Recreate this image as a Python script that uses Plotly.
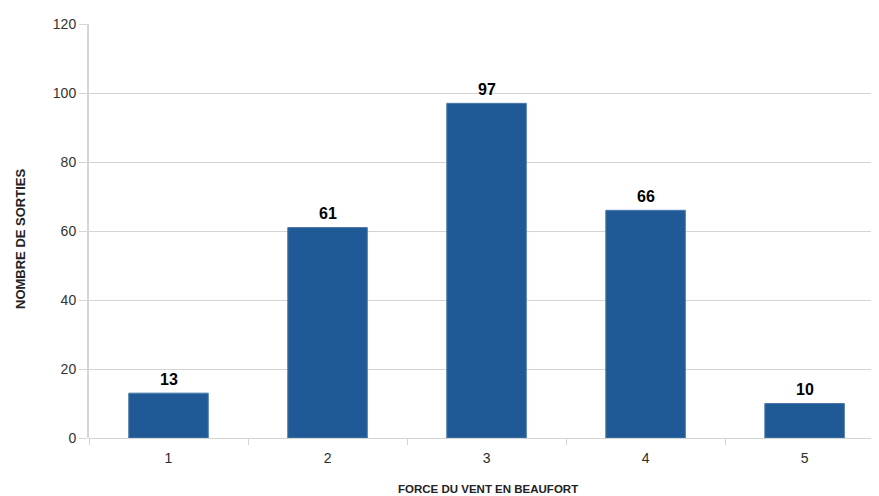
import plotly.graph_objects as go

categories = ["1", "2", "3", "4", "5"]
values = [13, 61, 97, 66, 10]
y_ticks = [0, 20, 40, 60, 80, 100, 120]

bar_color = "#1F5A96"
grid_color = "#D4D4D4"

fig = go.Figure(go.Bar(
    x=categories, y=values,
    marker=dict(color=bar_color, line=dict(color="#4A78A8", width=1)),
))

# value labels placed from the data, just above each bar (x = category index)
for i, v in enumerate(values):
    fig.add_annotation(x=i, y=v, text=str(v), showarrow=False, yanchor="middle", yshift=14,
                       font=dict(family="Liberation Sans, Arial", size=16, color="#000000", weight="bold"))

# page body has an 8px margin, so the figure is sized to fit the remaining area
fig.update_layout(
    width=871, height=488,
    margin=dict(l=81, r=0, t=16, b=58, autoexpand=False),
    plot_bgcolor="white", paper_bgcolor="white",
    bargap=0.5,
    showlegend=False,
    font=dict(family="Liberation Sans, Arial", size=14, color="#333333"),
)
fig.update_xaxes(
    type="category", range=[-0.5, 4.468], automargin=False,
    showgrid=False, showline=False, zeroline=False,
    ticks="outside", tickson="boundaries", ticklen=6, tickcolor=grid_color,
    ticklabelstandoff=10,
    tickfont=dict(size=14, color="#2a2a2a"),
)
fig.update_yaxes(
    range=[0, 120], tickvals=y_ticks, automargin=False,
    showgrid=True, gridcolor=grid_color, gridwidth=1,
    showline=True, linecolor=grid_color, linewidth=2,
    zeroline=True, zerolinecolor=grid_color, zerolinewidth=1,
    ticks="outside", ticklen=8, tickcolor=grid_color,
    tickfont=dict(size=14, color="#333333"),
)
fig.add_annotation(text="FORCE DU VENT EN BEAUFORT", xref="paper", yref="paper",
                   x=(488 - 89) / 790, y=-(489 - 438) / 414, showarrow=False,
                   font=dict(size=11.5, color="#222222", weight="bold"), yanchor="middle")
fig.add_annotation(text="NOMBRE DE SORTIES", xref="paper", yref="paper",
                   x=-(89 - 20) / 790, y=(438 - 239) / 414, showarrow=False, textangle=-90,
                   font=dict(size=13, color="#222222", weight="bold"), xanchor="center", yanchor="middle")

fig.write_html("out.html")
